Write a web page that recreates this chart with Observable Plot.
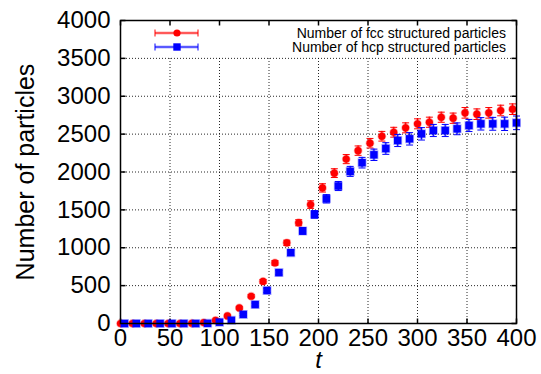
<!DOCTYPE html>
<html><head><meta charset="utf-8">
<script src="https://cdn.jsdelivr.net/npm/d3@7"></script>
<script src="https://cdn.jsdelivr.net/npm/@observablehq/plot@0.6"></script>
<style>body{margin:0;background:#fff;} #chart{width:541px;height:374px;}</style>
</head><body><div id="chart"></div>
<script>
const seriesNames = ["Number of fcc structured particles", "Number of hcp structured particles"];
const seriesColors = ["#ff0000", "#0000ff"];
const xTicks = [0, 50, 100, 150, 200, 250, 300, 350, 400];
const yTicks = [0, 500, 1000, 1500, 2000, 2500, 3000, 3500, 4000];

const fccT = [0, 12, 24, 36, 48, 60, 72, 84, 96, 108, 120, 132, 144, 156, 168, 180, 192, 204, 216, 228, 240, 252, 264, 276, 288, 300, 312, 324, 336, 348, 360, 372, 384, 396];
const fccN = [0, 0, 0, 0, 0, 0, 3, 12, 40, 100, 205, 360, 555, 800, 1065, 1330, 1570, 1790, 1985, 2170, 2282, 2380, 2472, 2525, 2583, 2636, 2657, 2723, 2710, 2781, 2763, 2781, 2812, 2829];
const fccErr = [0, 0, 0, 0, 0, 0, 0, 0, 0, 10, 15, 20, 25, 30, 35, 40, 50, 55, 58, 60, 62, 63, 64, 65, 66, 66, 67, 67, 68, 70, 70, 70, 70, 70];

const hcpT = [4, 16, 28, 40, 52, 64, 76, 88, 100, 112, 124, 136, 148, 160, 172, 184, 196, 208, 220, 232, 244, 256, 268, 280, 292, 304, 316, 328, 340, 352, 364, 376, 388, 400];
const hcpN = [0, 0, 0, 0, 0, 0, 0, 2, 17, 42, 120, 250, 435, 672, 935, 1222, 1440, 1646, 1815, 2008, 2123, 2227, 2310, 2416, 2438, 2504, 2548, 2548, 2570, 2614, 2636, 2636, 2636, 2649];
const hcpErr = [0, 0, 0, 0, 0, 0, 0, 0, 0, 0, 15, 20, 25, 30, 35, 45, 50, 55, 60, 66, 70, 75, 77, 80, 82, 82, 80, 80, 78, 80, 82, 85, 88, 90];

const fcc = fccT.map((t, i) => ({t, n: fccN[i], e: fccErr[i]}));
const hcp = hcpT.map((t, i) => ({t, n: hcpN[i], e: hcpErr[i]}));

const line = (x1, y1, x2, y2) => ({draw(ctx) { ctx.moveTo(x1, y1); ctx.lineTo(x2, y2); }});
const capSym = line(-3.5, 0, 3.5, 0);
const tickUp = line(0, 0, 0, -5);
const tickDown = line(0, 0, 0, 5);
const tickRight = line(0, 0, 5, 0);
const tickLeft = line(0, 0, -5, 0);
const squareSym = {draw(ctx) { const s = 3.7; ctx.moveTo(-s, -s); ctx.lineTo(s, -s); ctx.lineTo(s, s); ctx.lineTo(-s, s); ctx.closePath(); }};
const circleSym = {draw(ctx) { const r = 3.6; ctx.moveTo(r, 0); ctx.arc(0, 0, r, 0, 2 * Math.PI); }};

function errMarks(data, color) {
  const d = data.filter(p => p.e > 0);
  return [
    Plot.ruleX(d, {x: "t", y1: p => p.n - p.e, y2: p => p.n + p.e, stroke: color, strokeWidth: 3, strokeOpacity: 0.3}),
    Plot.ruleX(d, {x: "t", y1: p => p.n - p.e, y2: p => p.n + p.e, stroke: color, strokeWidth: 1}),
    Plot.dot(d, {x: "t", y: p => p.n + p.e, symbol: capSym, fill: "none", stroke: color, strokeWidth: 1}),
    Plot.dot(d, {x: "t", y: p => p.n - p.e, symbol: capSym, fill: "none", stroke: color, strokeWidth: 1})
  ];
}

const grid = {stroke: "#000", strokeOpacity: 0.85, strokeWidth: 1, strokeDasharray: "1,2"};

const plot = Plot.plot({
  width: 541,
  height: 374,
  marginLeft: 120,
  marginRight: 25,
  marginTop: 20,
  marginBottom: 51,
  style: {fontFamily: "'Liberation Sans', Arial, sans-serif", background: "#fff", color: "#000"},
  x: {domain: [0, 400]},
  y: {domain: [0, 4000]},
  marks: [
    Plot.ruleX(xTicks.slice(1, -1), {x: d => d, y1: 0, y2: 3500, ...grid}),
    Plot.ruleY(yTicks.slice(1, -1), {y: d => d, x1: 0, x2: 400, ...grid}),
    Plot.dot(xTicks, {x: d => d, y: 0, symbol: tickUp, fill: "none", stroke: "#000"}),
    Plot.dot(xTicks, {x: d => d, y: 4000, symbol: tickDown, fill: "none", stroke: "#000"}),
    Plot.dot(yTicks, {x: 0, y: d => d, symbol: tickRight, fill: "none", stroke: "#000"}),
    Plot.dot(yTicks, {x: 400, y: d => d, symbol: tickLeft, fill: "none", stroke: "#000"}),
    ...errMarks(fcc, seriesColors[0]),
    Plot.dot(fcc, {x: "t", y: "n", symbol: circleSym, fill: seriesColors[0], stroke: seriesColors[0], strokeOpacity: 0.3, strokeWidth: 1.6}),
    ...errMarks(hcp, seriesColors[1]),
    Plot.dot(hcp, {x: "t", y: "n", symbol: squareSym, fill: seriesColors[1], stroke: seriesColors[1], strokeOpacity: 0.3, strokeWidth: 1.6}),
    Plot.frame({stroke: "#000", strokeWidth: 1.5}),
    Plot.axisX({ticks: xTicks, tickSize: 0, tickPadding: 5, fontSize: 24, tickFormat: "d", label: null}),
    Plot.axisY({ticks: yTicks, tickSize: 0, tickPadding: 10, fontSize: 24, tickFormat: "d", label: null}),
    Plot.text(["t"], {frameAnchor: "bottom", dy: 37, fontSize: 24, fontStyle: "italic", lineAnchor: "middle"}),
    Plot.text(["Number of particles"], {frameAnchor: "left", dx: -95, rotate: -90, fontSize: 25, textAnchor: "middle"})
  ]
});

// legend (layout only)
const svg = d3.select(plot);
const lg = svg.append("g").attr("font-size", 14).attr("font-family", "'Liberation Sans', Arial, sans-serif");
seriesNames.forEach((name, i) => {
  const y = 33 + i * 14;
  const c = seriesColors[i];
  const g = lg.append("g");
  g.append("line").attr("x1", 155).attr("x2", 198).attr("y1", y).attr("y2", y).attr("stroke", c).attr("stroke-width", 3).attr("stroke-opacity", 0.3);
  g.append("line").attr("x1", 155).attr("x2", 198).attr("y1", y).attr("y2", y).attr("stroke", c);
  g.append("line").attr("x1", 155).attr("x2", 155).attr("y1", y - 3.5).attr("y2", y + 3.5).attr("stroke", c);
  g.append("line").attr("x1", 198).attr("x2", 198).attr("y1", y - 3.5).attr("y2", y + 3.5).attr("stroke", c);
  if (i === 0) g.append("circle").attr("cx", 177).attr("cy", y).attr("r", 3.6).attr("fill", c);
  else g.append("rect").attr("x", 177 - 3.7).attr("y", y - 3.7).attr("width", 7.4).attr("height", 7.4).attr("fill", c);
  g.append("text").attr("x", 506).attr("y", y + 5).attr("text-anchor", "end").attr("fill", "#000").text(name);
});

document.getElementById("chart").appendChild(plot);
</script>
</body></html>
